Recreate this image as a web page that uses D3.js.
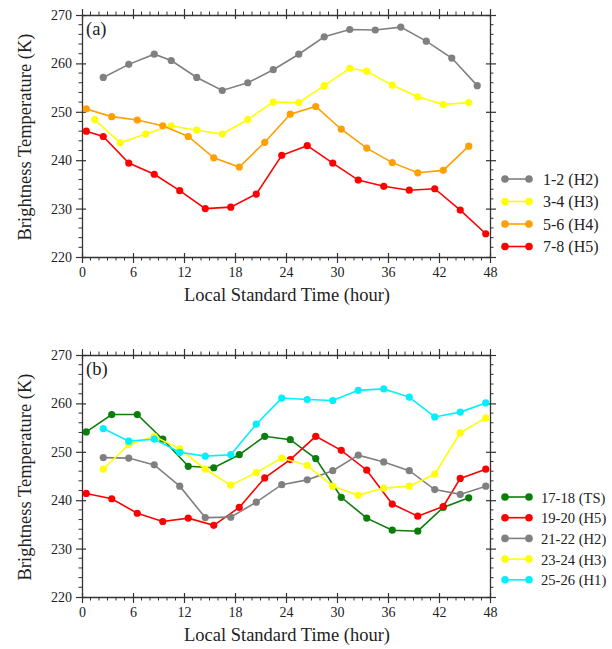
<!DOCTYPE html>
<html>
<head>
<meta charset="utf-8">
<script src="https://cdn.jsdelivr.net/npm/d3@7"></script>
<style>
  html, body { margin: 0; padding: 0; background: #fff; }
  svg { display: block; }
  text { font-family: "Liberation Serif", "Times New Roman", serif; fill: #222; }
</style>
</head>
<body>
<svg id="chart" width="612" height="649"></svg>
<script>
// ---- Panel (a): brightness temperature, days 1-8 ----
const timeA12 = [2.5, 5.5, 8.5, 10.5, 13.5, 16.5, 19.5, 22.5, 25.5, 28.5, 31.5, 34.5, 37.5, 40.5, 43.5, 46.5];
const tbA12   = [257.1, 259.8, 261.9, 260.6, 257.1, 254.4, 256.0, 258.7, 261.9, 265.5, 267.0, 266.9, 267.5, 264.6, 261.1, 255.4];
const timeA34 = [1.5, 4.5, 7.5, 10.5, 13.5, 16.5, 19.5, 22.5, 25.5, 28.5, 31.5, 33.5, 36.5, 39.5, 42.5, 45.5];
const tbA34   = [248.4, 243.6, 245.4, 247.1, 246.2, 245.4, 248.4, 252.0, 251.9, 255.4, 259.0, 258.4, 255.5, 253.1, 251.5, 251.9];
const timeA56 = [0.5, 3.5, 6.5, 9.5, 12.5, 15.5, 18.5, 21.5, 24.5, 27.5, 30.5, 33.5, 36.5, 39.5, 42.5, 45.5];
const tbA56   = [250.6, 249.0, 248.3, 247.1, 244.9, 240.5, 238.6, 243.7, 249.5, 251.1, 246.4, 242.5, 239.5, 237.4, 237.9, 242.9];
const timeA78 = [0.5, 2.5, 5.5, 8.5, 11.5, 14.5, 17.5, 20.5, 23.5, 26.5, 29.5, 32.5, 35.5, 38.5, 41.5, 44.5, 47.5];
const tbA78   = [246.0, 244.9, 239.4, 237.1, 233.7, 230.0, 230.3, 233.0, 241.0, 243.0, 239.4, 235.9, 234.6, 233.8, 234.1, 229.7, 224.8];

// ---- Panel (b): brightness temperature, days 17-26 ----
const timeB1718 = [0.5, 3.5, 6.5, 9.5, 12.5, 15.5, 18.5, 21.5, 24.5, 27.5, 30.5, 33.5, 36.5, 39.5, 42.5, 45.5];
const tbB1718   = [254.1, 257.7, 257.7, 252.6, 247.0, 246.7, 249.4, 253.2, 252.5, 248.6, 240.6, 236.3, 233.8, 233.6, 238.5, 240.5];
const timeB1920 = [0.5, 3.5, 6.5, 9.5, 12.5, 15.5, 18.5, 21.5, 24.5, 27.5, 30.5, 33.5, 36.5, 39.5, 42.5, 44.5, 47.5];
const tbB1920   = [241.4, 240.3, 237.3, 235.6, 236.3, 234.8, 238.5, 244.6, 248.4, 253.2, 250.3, 246.2, 239.2, 236.7, 238.7, 244.5, 246.4];
const timeB2122 = [2.5, 5.5, 8.5, 11.5, 14.5, 17.5, 20.5, 23.5, 26.5, 29.5, 32.5, 35.5, 38.5, 41.5, 44.5, 47.5];
const tbB2122   = [248.8, 248.7, 247.3, 242.9, 236.4, 236.5, 239.6, 243.2, 244.2, 246.1, 249.3, 247.9, 246.1, 242.2, 241.2, 242.9];
const timeB2324 = [2.5, 5.5, 8.5, 11.5, 14.5, 17.5, 20.5, 23.5, 26.5, 29.5, 32.5, 35.5, 38.5, 41.5, 44.5, 47.5];
const tbB2324   = [246.4, 251.5, 253.2, 250.6, 246.4, 243.1, 245.7, 248.7, 247.2, 242.9, 241.0, 242.5, 242.9, 245.4, 253.9, 257.0];
const timeB2526 = [2.5, 5.5, 8.5, 11.5, 14.5, 17.5, 20.5, 23.5, 26.5, 29.5, 32.5, 35.5, 38.5, 41.5, 44.5, 47.5];
const tbB2526   = [254.8, 252.2, 252.6, 249.9, 249.1, 249.4, 255.7, 261.1, 260.8, 260.6, 262.7, 263.0, 261.3, 257.2, 258.2, 260.1];

const labelsA = ["1-2 (H2)", "3-4 (H3)", "5-6 (H4)", "7-8 (H5)"];
const colorsA = ["#808080", "#ffff00", "#ffa000", "#ff0000"];
const labelsB = ["17-18 (TS)", "19-20 (H5)", "21-22 (H2)", "23-24 (H3)", "25-26 (H1)"];
const colorsB = ["#0a7d0a", "#ff0000", "#808080", "#ffff00", "#00f0ff"];

const xTicks = [0, 6, 12, 18, 24, 30, 36, 42, 48];
const yTicks = [220, 230, 240, 250, 260, 270];

const seriesA = [
  { label: labelsA[0], color: colorsA[0], t: timeA12, v: tbA12 },
  { label: labelsA[1], color: colorsA[1], t: timeA34, v: tbA34 },
  { label: labelsA[2], color: colorsA[2], t: timeA56, v: tbA56 },
  { label: labelsA[3], color: colorsA[3], t: timeA78, v: tbA78 }
];
const seriesB = [
  { label: labelsB[0], color: colorsB[0], t: timeB1718, v: tbB1718 },
  { label: labelsB[1], color: colorsB[1], t: timeB1920, v: tbB1920 },
  { label: labelsB[2], color: colorsB[2], t: timeB2122, v: tbB2122 },
  { label: labelsB[3], color: colorsB[3], t: timeB2324, v: tbB2324 },
  { label: labelsB[4], color: colorsB[4], t: timeB2526, v: tbB2526 }
];

const svg = d3.select("#chart");
const axisColor = "#333";

function drawPanel(opts) {
  const { top, series, tag, legendX, legendY, legendStep, legendFont, legendGap } = opts;
  const left = 82, right = 490, height = 242;
  const bottom = top + height;

  const x = d3.scaleLinear().domain([0, 48]).range([left, right]);
  const y = d3.scaleLinear().domain([220, 270]).range([bottom, top]);

  const g = svg.append("g");

  // frame axes: major ticks cross the line, minor ticks point outward
  const minorX = d3.range(0, 49, 1).filter(v => v % 6 !== 0);
  const minorY = d3.range(220, 271, 2).filter(v => v % 10 !== 0);

  const axes = [
    { axis: d3.axisBottom(x), pos: `translate(0,${bottom})`, labels: true },
    { axis: d3.axisTop(x), pos: `translate(0,${top})`, labels: false },
    { axis: d3.axisLeft(y), pos: `translate(${left},0)`, labels: true },
    { axis: d3.axisRight(y), pos: `translate(${right},0)`, labels: false }
  ];
  axes.forEach((a, i) => {
    const isX = i < 2;
    const ax = g.append("g").attr("transform", a.pos);
    ax.call(a.axis.tickValues(isX ? xTicks : yTicks).tickSizeInner(6).tickSizeOuter(0).tickPadding(4)
      .tickFormat(a.labels ? d3.format("d") : ""));
    ax.select(".domain").attr("stroke", axisColor).attr("stroke-width", 1.3);
    ax.selectAll(".tick line").attr("stroke", axisColor).attr("stroke-width", 1.2);
    // extend major ticks across the frame line
    ax.selectAll(".tick").append("line")
      .attr(isX ? "y1" : "x1", 0)
      .attr(isX ? "y2" : "x2", (i === 0 ? -4 : i === 1 ? 4 : i === 2 ? 4 : -4))
      .attr("stroke", axisColor).attr("stroke-width", 1.2);
    ax.selectAll(".tick text").attr("font-size", 14).attr("fill", "#222")
      .style("font-family", "'Liberation Serif', serif");
    // minor ticks
    const scale = isX ? x : y;
    const vals = isX ? minorX : minorY;
    const dir = (i === 0 || i === 3) ? 1 : -1;
    ax.selectAll(".minor").data(vals).join("line")
      .attr("class", "minor")
      .attr(isX ? "x1" : "y1", d => scale(d)).attr(isX ? "x2" : "y2", d => scale(d))
      .attr(isX ? "y1" : "x1", 0).attr(isX ? "y2" : "x2", dir * 3.5)
      .attr("stroke", axisColor).attr("stroke-width", 1);
  });

  // panel tag
  g.append("text").attr("x", left + 4).attr("y", top + 20)
    .attr("font-size", 18.5).text(tag);

  // axis titles
  g.append("text")
    .attr("transform", `translate(31,${(top + bottom) / 2 + 1}) rotate(-90)`)
    .attr("text-anchor", "middle").attr("font-size", 18.5)
    .text("Brightness Temperature (K)");
  g.append("text")
    .attr("x", (left + right) / 2 + 1).attr("y", bottom + 44)
    .attr("text-anchor", "middle").attr("font-size", 18.5)
    .text("Local Standard Time (hour)");

  // series lines and markers
  const line = d3.line().x(d => x(d[0])).y(d => y(d[1]));
  series.forEach(s => {
    const pts = s.t.map((t, i) => [t, s.v[i]]);
    const sg = g.append("g");
    sg.append("path").datum(pts).attr("d", line)
      .attr("fill", "none").attr("stroke", s.color).attr("stroke-width", 1.6);
    sg.selectAll("circle").data(pts).join("circle")
      .attr("cx", d => x(d[0])).attr("cy", d => y(d[1])).attr("r", 3.6)
      .attr("fill", s.color);
  });

  // legend
  series.forEach((s, i) => {
    const ly = legendY + i * legendStep;
    const lg = g.append("g");
    lg.append("line").attr("x1", legendX).attr("x2", legendX + 24)
      .attr("y1", ly).attr("y2", ly).attr("stroke", s.color).attr("stroke-width", 1.6);
    lg.selectAll("circle").data([legendX, legendX + 24]).join("circle")
      .attr("cx", d => d).attr("cy", ly).attr("r", 3.8).attr("fill", s.color);
    lg.append("text").attr("x", legendX + legendGap).attr("y", ly + 5.5)
      .attr("font-size", legendFont).text(s.label);
  });
}

drawPanel({ top: 15, series: seriesA, tag: "(a)", legendX: 505, legendY: 179, legendStep: 22.5, legendFont: 16, legendGap: 38 });
drawPanel({ top: 355, series: seriesB, tag: "(b)", legendX: 505, legendY: 497, legendStep: 20.7, legendFont: 14.6, legendGap: 36 });
</script>
</body>
</html>
